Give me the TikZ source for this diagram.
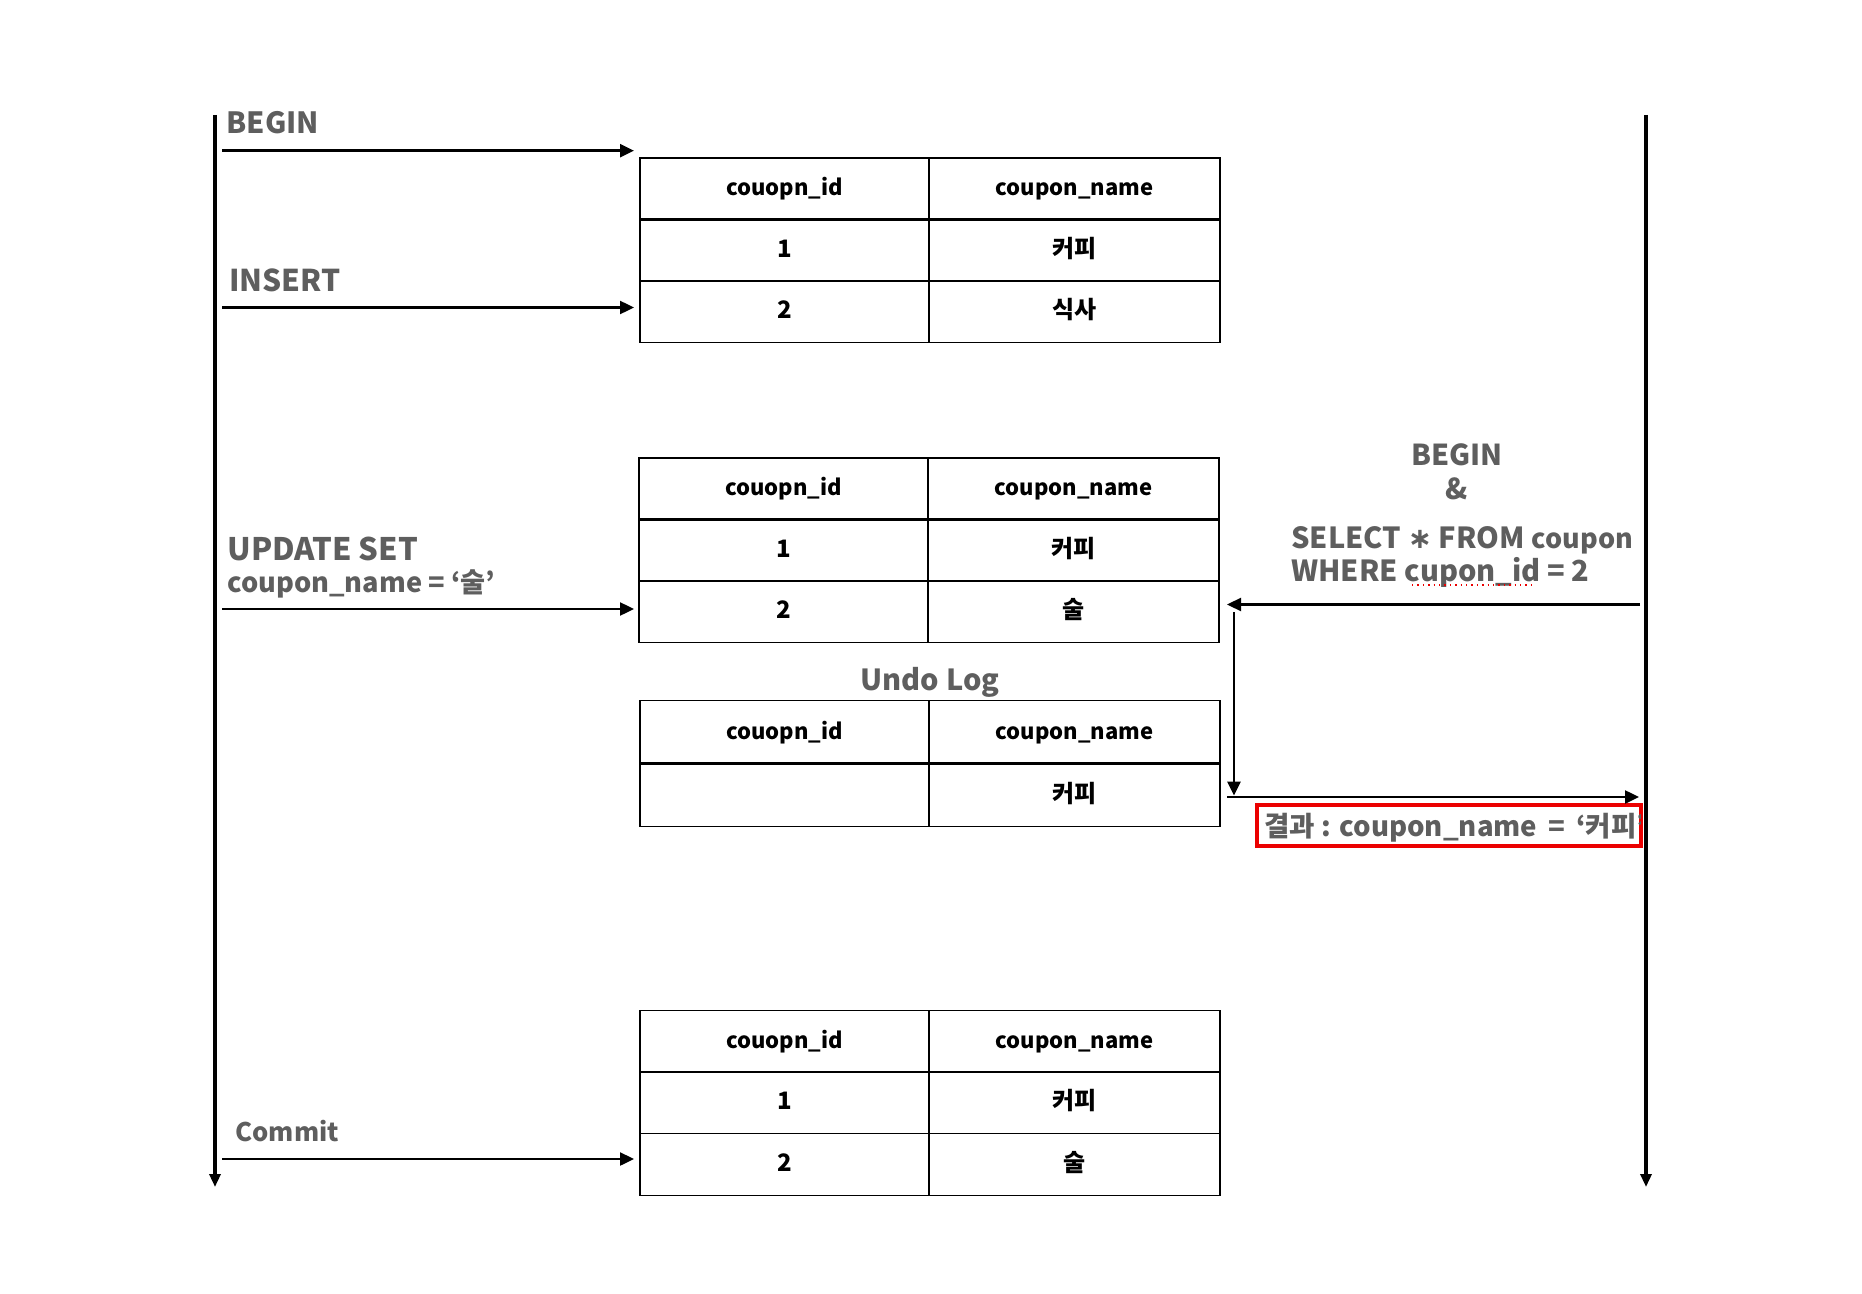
\documentclass[tikz,border=0pt]{standalone}
\usepackage{fontspec}
\setmainfont{Noto Sans CJK KR}
\newfontfamily\symfont{DejaVu Sans}
\usetikzlibrary{arrows.meta,positioning}
\definecolor{labelgray}{RGB}{94,94,94}
\definecolor{boxred}{RGB}{235,0,0}
\tikzset{
  cell/.style={draw, line width=0.6pt, inner sep=0pt, outer sep=0pt,
    minimum height=30.75pt, text height=0.8em, text depth=0.1em,
    font=\bfseries\fontsize{12}{14}\selectfont},
  cola/.style={cell, minimum width=144.5pt},
  colb/.style={cell, minimum width=145.5pt},
  headcell/.style={font=\bfseries\fontsize{11}{13}\selectfont},
  headline/.style={line width=1.3pt},
  timeline/.style={line width=1.6pt, -{Triangle[length=6.5pt,width=5.5pt]}},
  msg/.style={line width=1.2pt, -{Triangle[length=7pt,width=6.5pt]}},
  lbl/.style={text=labelgray, inner sep=0pt, anchor=base west},
}
\begin{document}
\begin{tikzpicture}[x=0.5pt, y=-0.5pt]
  \useasboundingbox (0,0) rectangle (1862,1294);

  % time lines and message ends
  \coordinate (lt) at (215,115);
  \coordinate (lb) at (215,1187);
  \coordinate (rt) at (1646,115);
  \coordinate (rb) at (1646,1187);
  \coordinate (b0) at (222,150.7);  \coordinate (b1) at (634,150.7);
  \coordinate (i0) at (222,307.5);  \coordinate (i1) at (634,307.5);
  \coordinate (u0) at (222,609);    \coordinate (u1) at (634,609);
  \coordinate (c0) at (222,1159);   \coordinate (c1) at (634,1159);
  \coordinate (s0) at (1640,604.5); \coordinate (s1) at (1227,604.5);
  \coordinate (v0) at (1234,612);   \coordinate (v1) at (1234,795.6);
  \coordinate (r0) at (1227,797);   \coordinate (r1) at (1639,797);

  % tables
  \node[cola, headcell, anchor=north west] (t1a) at (640,158) {couopn\_id};
  \node[colb, headcell, right=0pt of t1a] (t1b) {coupon\_name};
  \node[cola, below=0pt of t1a] (t1c) {1};
  \node[colb, right=0pt of t1c] (t1d) {커피};
  \node[cola, below=0pt of t1c] (t1e) {2};
  \node[colb, right=0pt of t1e] (t1f) {식사};
  \draw[headline] (t1a.south west) -- (t1b.south east);

  \node[cola, headcell, anchor=north west] (t2a) at (639,458) {couopn\_id};
  \node[colb, headcell, right=0pt of t2a] (t2b) {coupon\_name};
  \node[cola, below=0pt of t2a] (t2c) {1};
  \node[colb, right=0pt of t2c] (t2d) {커피};
  \node[cola, below=0pt of t2c] (t2e) {2};
  \node[colb, right=0pt of t2e] (t2f) {술};
  \draw[headline] (t2a.south west) -- (t2b.south east);

  \node[text=labelgray, font=\bfseries\fontsize{14.5}{17}\selectfont, anchor=base] (undo) at (930,690) {Undo Log};
  \node[cola, headcell, anchor=north west, minimum height=31.5pt] (t3a) at (640,700.6) {couopn\_id};
  \node[colb, headcell, right=0pt of t3a, minimum height=31.5pt] (t3b) {coupon\_name};
  \node[cola, below=0pt of t3a, minimum height=31.5pt] (t3c) {};
  \node[colb, right=0pt of t3c, minimum height=31.5pt] (t3d) {커피};
  \draw[headline] (t3a.south west) -- (t3b.south east);

  \node[cola, headcell, anchor=north west] (t4a) at (640,1010.6) {couopn\_id};
  \node[colb, headcell, right=0pt of t4a] (t4b) {coupon\_name};
  \node[cola, below=0pt of t4a] (t4c) {1};
  \node[colb, right=0pt of t4c] (t4d) {커피};
  \node[cola, below=0pt of t4c] (t4e) {2};
  \node[colb, right=0pt of t4e] (t4f) {술};
  \draw[headline] (t4a.south west) -- (t4b.south east);

  % labels
  \begin{scope}[every node/.style={lbl, font=\bfseries\fontsize{15.5}{18}\selectfont}]
    \node[font=\bfseries\fontsize{14.6}{18}\selectfont] (begin1) at (226,134) {BEGIN};
    \node[font=\bfseries\fontsize{15}{18}\selectfont] (insert) at (229,291.7) {INSERT};
    \node (update) at (227,560) {UPDATE SET};
    \node[font=\bfseries\fontsize{13.6}{17}\selectfont] (setval) at (227,592) {coupon\_name = ‘술’};
    \node[font=\bfseries\fontsize{12.8}{16}\selectfont] (commit) at (235,1141.7) {Commit};
  \end{scope}

  \begin{scope}[every node/.style={lbl, font=\bfseries\fontsize{14.5}{17}\selectfont}]
    \node[anchor=base, font=\bfseries\fontsize{14.4}{16}\selectfont] (begin2) at (1457,466) {BEGIN};
    \node[anchor=base, font=\bfseries\fontsize{14.4}{16}\selectfont] (amp) at (1457,499) {\&};
    \node (select) at (1291,548) {SELECT {\symfont ∗} FROM {\fontsize{13.5}{15}\selectfont coupon}};
    \node (where) at (1291,581.7) {WHERE cupon\_id = 2};
  \end{scope}
  \draw[boxred, dotted, line width=0.7pt] (1412,585) -- (1532,585);

  % result box
  \node[draw=boxred, line width=1.3pt, minimum width=191.5pt, minimum height=19.5pt, inner sep=0pt] (resbox) at (1449.2,825.5) {};
  \begin{scope}
    \clip (resbox.south west) rectangle (resbox.north east);
    \node[lbl, font=\bfseries\fontsize{13.8}{17}\selectfont] (result) at (1264,836) {결과 : coupon\_name \,=\, ‘커피’};
  \end{scope}
  \draw[boxred, line width=1.3pt] (resbox.south west) rectangle (resbox.north east);

  % connectors
  \draw[timeline] (lt) -- (lb);
  \draw[timeline] (rt) -- (rb);
  \draw[msg] (b0) -- (b1);
  \draw[msg] (i0) -- (i1);
  \draw[msg] (u0) -- (u1);
  \draw[msg] (c0) -- (c1);
  \draw[msg] (s0) -- (s1);
  \draw[msg] (v0) -- (v1);
  \draw[msg] (r0) -- (r1);
\end{tikzpicture}
\end{document}
